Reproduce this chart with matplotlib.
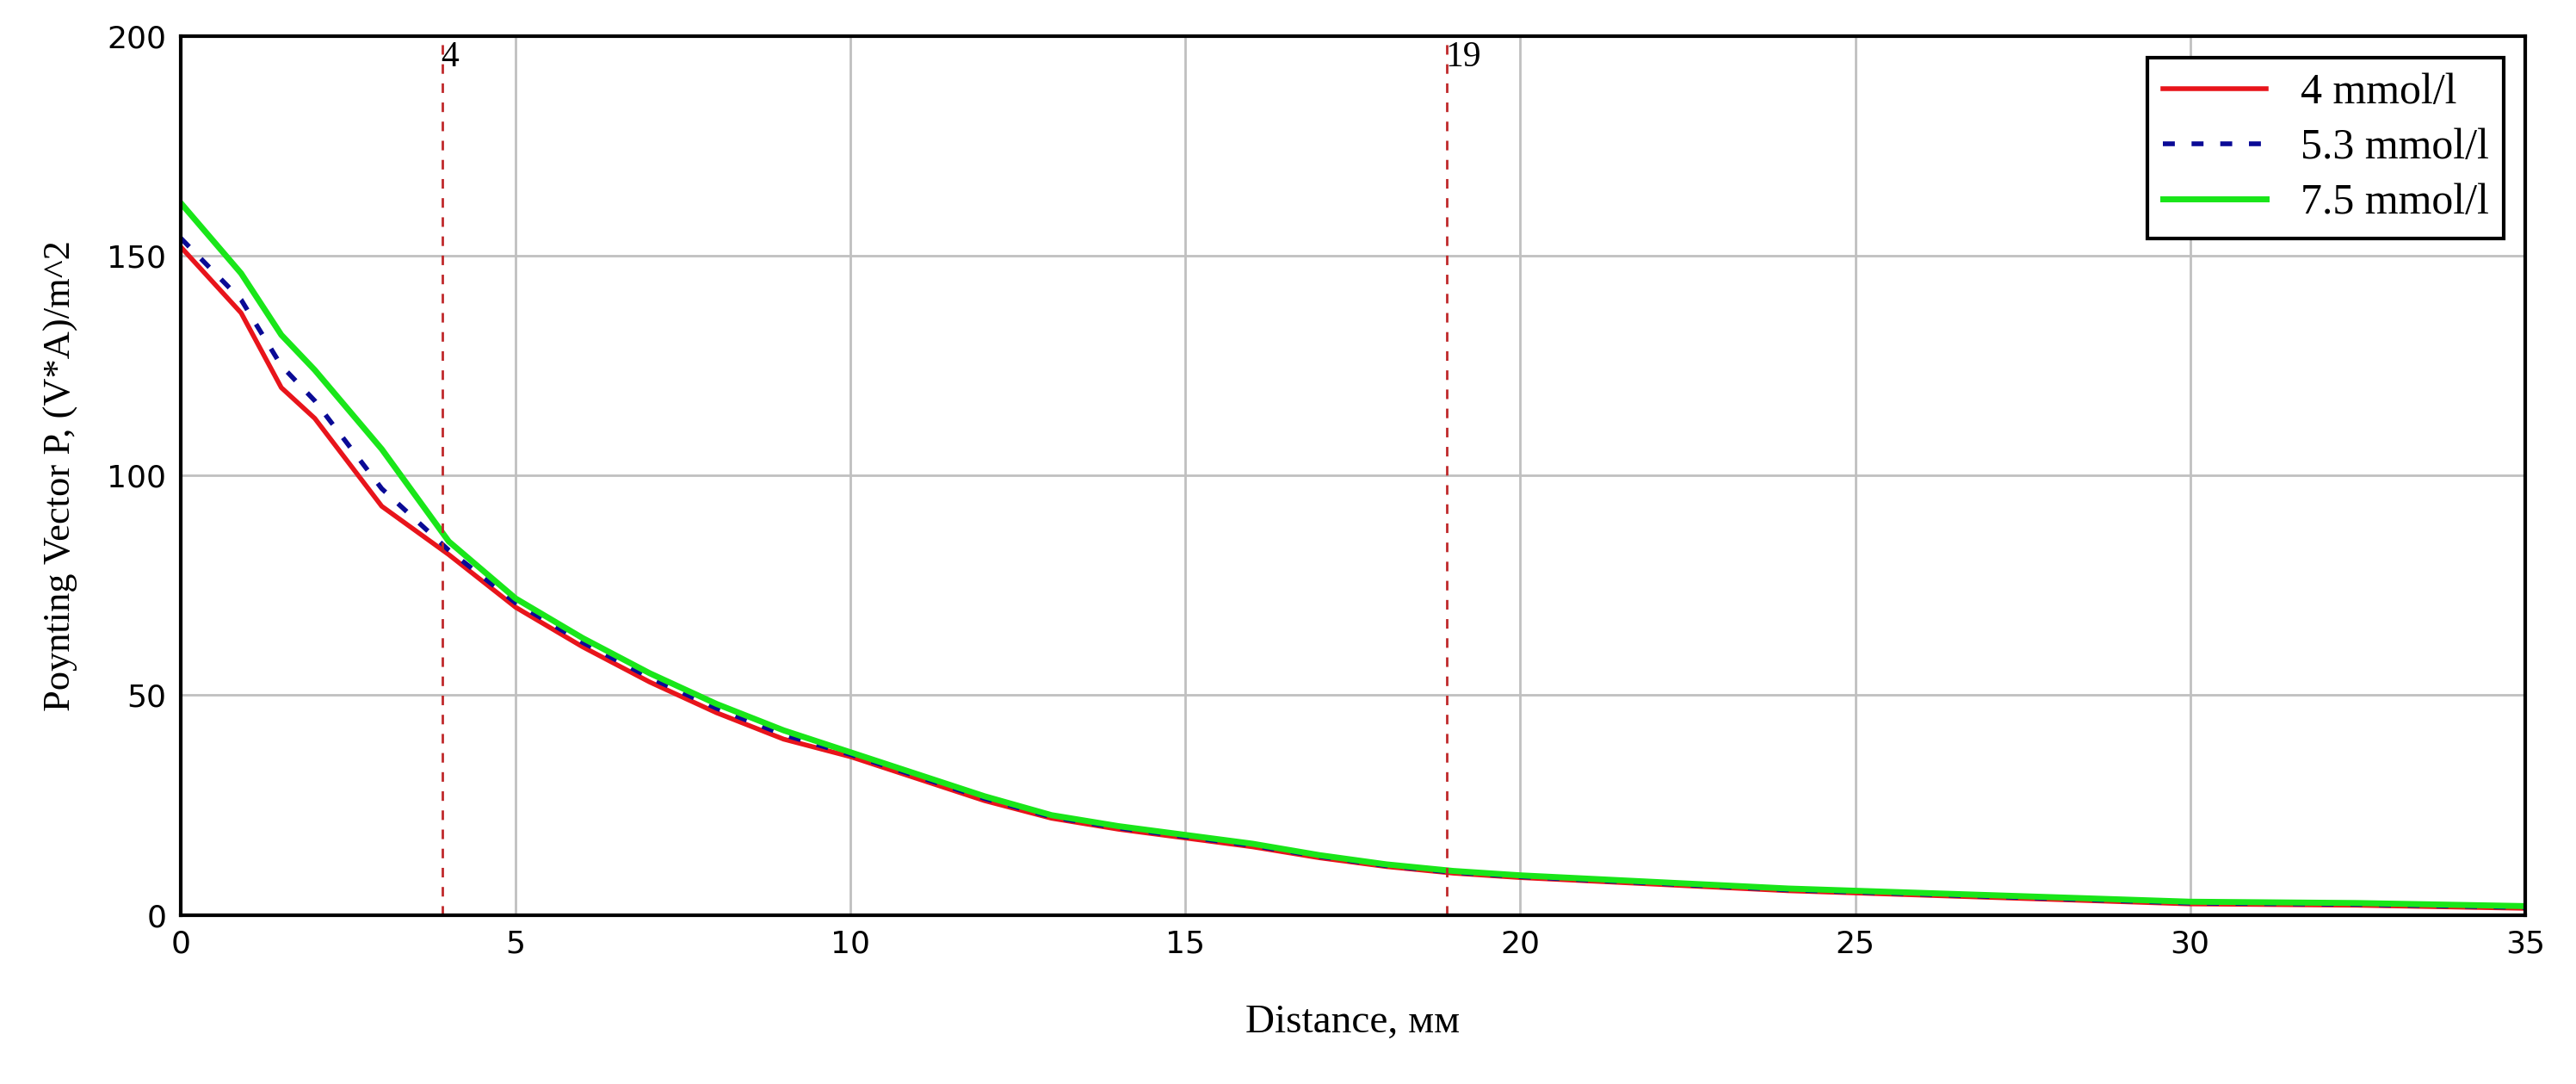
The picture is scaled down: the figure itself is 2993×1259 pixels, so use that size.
import matplotlib
matplotlib.use("Agg")
import matplotlib.pyplot as plt

# values
dist = [0, 0.9, 1.5, 2, 3, 4, 5, 6, 7, 8, 9, 10, 11, 12, 13, 14, 15, 16, 17, 18, 19, 20,
        22, 24, 26, 28, 30, 32.5, 35]
p_4 = [152, 137, 120, 113, 93, 82, 70, 61, 53, 46, 40, 36, 31, 26, 22, 19.5, 17.5, 15.5,
       13, 11, 9.5, 8.5, 7, 5.5, 4.5, 3.5, 2.5, 2.2, 1.5]
p_53 = [154, 140, 125, 117, 97, 83, 71, 62, 54, 47, 41, 36.5, 31.5, 26.5, 22.3, 19.8, 17.8,
        15.8, 13.3, 11.2, 9.7, 8.7, 7.2, 5.7, 4.7, 3.7, 2.7, 2.4, 1.7]
p_75 = [162, 146, 132, 124, 106, 85, 72, 63, 55, 48, 42, 37, 32, 27, 22.7, 20.2, 18.2,
        16.2, 13.6, 11.5, 10, 9, 7.5, 6, 5, 4, 3, 2.7, 2]
markers_x = [3.9, 18.9]
marker_labels = ["4", "19"]

serif = ["Liberation Serif", "DejaVu Serif"]
narrow = ["Liberation Sans Narrow", "DejaVu Sans"]

fig = plt.figure(figsize=(29.93, 12.59), dpi=100)
ax = fig.add_axes([0.0702, 0.156, 0.910, 0.8107])

ax.plot(dist, p_4, color="#e8141b", lw=4, label="4 mmol/l")
ax.plot(dist, p_53, color="#0a0a96", lw=4, linestyle=(0, (2.5, 3.5)), label="5.3 mmol/l")
ax.plot(dist, p_75, color="#19e619", lw=5, label="7.5 mmol/l")

for xm, lab in zip(markers_x, marker_labels):
    ax.axvline(xm, color="#c0282a", lw=2, linestyle=(0, (4, 4)))
    ax.text(xm - 0.02, 199, lab, fontsize=30, family=serif, va="top", ha="left")

ax.set_xlim(0, 35)
ax.set_ylim(0, 200)
ax.set_xticks(range(0, 36, 5))
ax.set_yticks(range(0, 201, 50))
ax.grid(True, color="#c0c0c0", lw=2)
ax.tick_params(length=0, labelsize=26, pad=12)
for lbl in ax.get_xticklabels() + ax.get_yticklabels():
    lbl.set_family(narrow)
for s in ax.spines.values():
    s.set_linewidth(3)

ax.set_xlabel("Distance, мм", fontsize=34, family=serif, labelpad=38)
ax.set_ylabel("Poynting Vector P, (V*A)/m^2", fontsize=32, family=serif, labelpad=24)

leg = ax.legend(loc="upper right", bbox_to_anchor=(0.9965, 0.99), fancybox=False,
                framealpha=1, edgecolor="black", prop={"family": serif, "size": 36},
                handlelength=2.4, borderaxespad=0.3, labelspacing=0.35, borderpad=0.35)
leg.get_frame().set_linewidth(3)

fig.savefig("out.png", dpi=100)
